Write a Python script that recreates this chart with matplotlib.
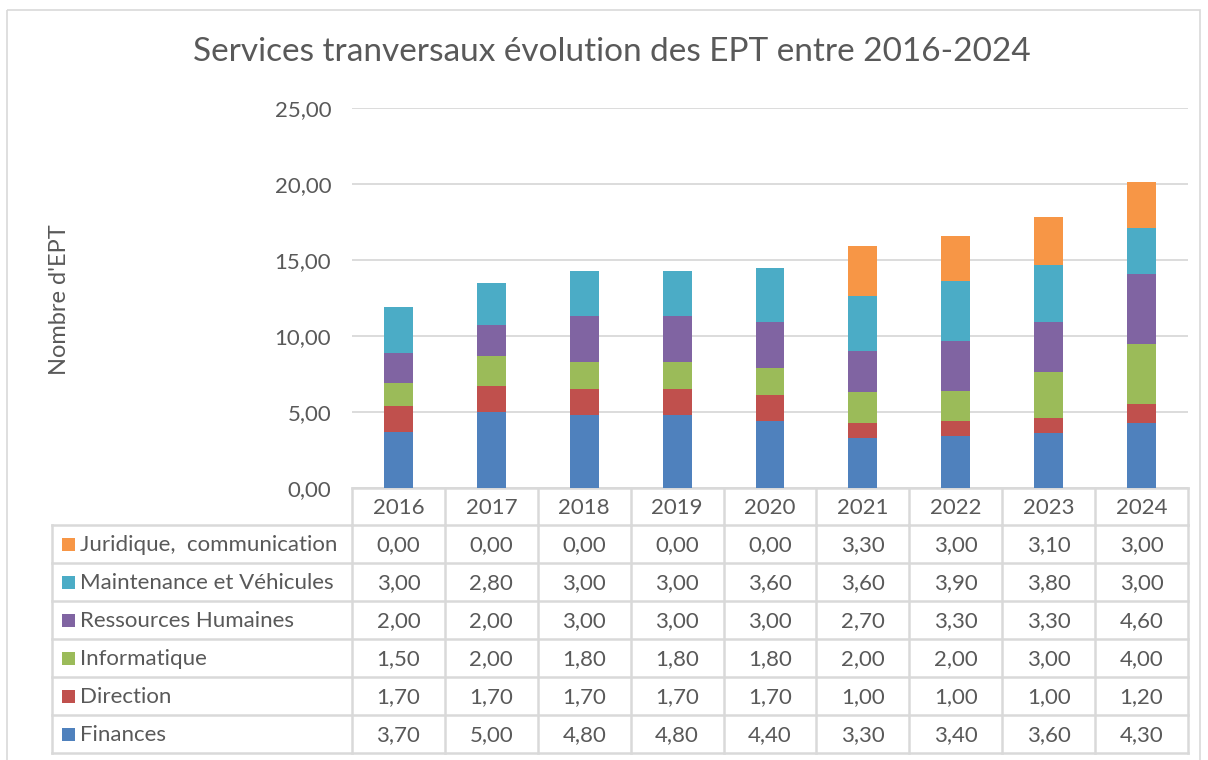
import matplotlib
matplotlib.use('Agg')
import matplotlib.pyplot as plt
from matplotlib.transforms import blended_transform_factory
from matplotlib.patches import Rectangle

plt.rcParams['font.family'] = ['Lato', 'DejaVu Sans']

# data
years = ['2016', '2017', '2018', '2019', '2020', '2021', '2022', '2023', '2024']
finances = [3.70, 5.00, 4.80, 4.80, 4.40, 3.30, 3.40, 3.60, 4.30]
direction = [1.70, 1.70, 1.70, 1.70, 1.70, 1.00, 1.00, 1.00, 1.20]
informatique = [1.50, 2.00, 1.80, 1.80, 1.80, 2.00, 2.00, 3.00, 4.00]
ressources = [2.00, 2.00, 3.00, 3.00, 3.00, 2.70, 3.30, 3.30, 4.60]
maintenance = [3.00, 2.80, 3.00, 3.00, 3.60, 3.60, 3.90, 3.80, 3.00]
juridique = [0.00, 0.00, 0.00, 0.00, 0.00, 3.30, 3.00, 3.10, 3.00]

series = [
    ('Finances', finances, '#4F81BD'),
    ('Direction', direction, '#C0504D'),
    ('Informatique', informatique, '#9BBB59'),
    ('Ressources Humaines', ressources, '#8064A2'),
    ('Maintenance et Véhicules', maintenance, '#4BACC6'),
    ('Juridique,  communication', juridique, '#F79646'),
]
yticks = [0, 5, 10, 15, 20, 25]

TXT = '#595959'
GRID = '#D9D9D9'
W, H = 1208, 760
FS = 16

fig = plt.figure(figsize=(W / 100, H / 100), dpi=100)

# overlay axes in pixel coordinates for frame / table
ov = fig.add_axes([0, 0, 1, 1], zorder=0)
ov.set_xlim(0, W)
ov.set_ylim(H, 0)
ov.axis('off')

# plot area
x0, x1, ytop, ybot = 352, 1188, 108, 488
ax = fig.add_axes([x0 / W, (H - ybot) / H, (x1 - x0) / W, (ybot - ytop) / H], zorder=2)
ax.patch.set_alpha(0)

idx = list(range(len(years)))
bottom = [0.0] * len(years)
for name, vals, col in series:
    ax.bar(idx, vals, width=0.31, bottom=bottom, color=col, zorder=3)
    bottom = [b + v for b, v in zip(bottom, vals)]

ax.set_xlim(-0.5, len(years) - 0.5)
ax.set_ylim(0, 25)
ax.set_yticks(yticks)
ax.set_yticklabels([f'{t:.2f}'.replace('.', ',') for t in yticks], fontsize=FS, color=TXT)
ax.set_xticks([])
ax.tick_params(axis='y', length=0, pad=15)
ax.grid(axis='y', color=GRID, lw=1.3, zorder=0)
for s in ax.spines.values():
    s.set_visible(False)

# outer frame
ov.add_patch(Rectangle((7, 10), 1193, 760, fill=False, ec=GRID, lw=1.2))

fig.text(612 / W, 1 - 52 / H, 'Services tranversaux évolution des EPT entre 2016-2024',
         ha='center', va='center', fontsize=24, color=TXT)
fig.text(60 / W, 1 - 300 / H, "Nombre d'EPT", rotation=90, ha='center', va='center',
         fontsize=17, color=TXT)

# data table below the axis
tr = blended_transform_factory(ax.transData, ov.transData)
row_h = 38
hdr_top = ybot
rows_top = hdr_top + 37
n = len(years)
lw = 1.8

# header cells (years)
for i, yr in enumerate(years):
    ov.text(i, (hdr_top + rows_top) / 2 + 1, yr, transform=tr, ha='center', va='center',
            fontsize=FS, color=TXT)
# header borders
ov.plot([-0.5, n - 0.5], [hdr_top, hdr_top], transform=tr, color=GRID, lw=lw)
for i in range(n + 1):
    ov.plot([i - 0.5, i - 0.5], [hdr_top, rows_top], transform=tr, color=GRID, lw=lw)

# body rows, top row = last series
lab_x = 52
rows = list(reversed(series))
for r, (name, vals, col) in enumerate(rows):
    yt = rows_top + r * row_h
    yc = yt + row_h / 2 + 1
    ov.add_patch(Rectangle((62, yc - 7), 13, 13, color=col, lw=0))
    ov.text(80, yc, name, ha='left', va='center', fontsize=FS, color=TXT)
    for i, v in enumerate(vals):
        ov.text(i, yc, f'{v:.2f}'.replace('.', ','), transform=tr, ha='center',
                va='center', fontsize=FS, color=TXT)
for r in range(len(rows) + 1):
    y = rows_top + r * row_h
    ov.plot([lab_x, x1], [y, y], color=GRID, lw=lw)
y_end = rows_top + len(rows) * row_h
ov.plot([lab_x, lab_x], [rows_top, y_end], color=GRID, lw=lw)
for i in range(n + 1):
    ov.plot([i - 0.5, i - 0.5], [rows_top, y_end], transform=tr, color=GRID, lw=lw)

fig.savefig('out.png', dpi=100)
